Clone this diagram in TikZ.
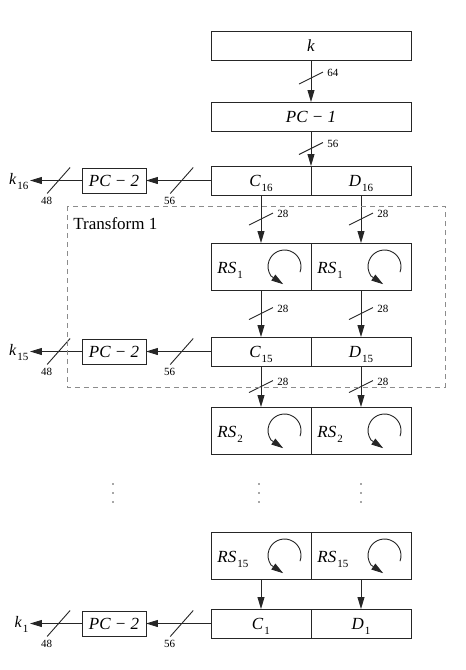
\documentclass[tikz,border=0pt]{standalone}
\usepackage{fontspec}
\setmainfont{Liberation Serif}
\usetikzlibrary{arrows.meta,positioning}
\newcommand{\mainsize}{\fontsize{17}{20}\selectfont}
\newcommand{\subsize}{\fontsize{11}{13}\selectfont}
\newcommand{\idx}[2]{\textit{#1}\kern1pt\raisebox{-5pt}{\subsize #2}}
\tikzset{>={Triangle[length=12pt,width=7pt]},node distance=2cm}
\tikzset{
  blk/.style={draw,minimum width=200pt,minimum height=29pt,inner sep=0pt,outer sep=0pt,
    text height=11pt,text depth=0pt,font=\mainsize},
  half/.style={blk,minimum width=100pt},
  rsbox/.style={half,minimum height=47pt},
  pcbox/.style={blk,minimum width=64pt,minimum height=25pt},
  klabel/.style={inner sep=1.5pt,outer sep=0pt,text height=8pt,text depth=0pt,font=\fontsize{16}{18}\selectfont},
  numlbl/.style={inner sep=0pt,font=\subsize},
  busv/.pic={\draw[-] (-12pt,-6pt) -- (12pt,6pt);
    \node[numlbl,anchor=west] at (16pt,5pt) {#1};},
  bush/.pic={\draw[-] (-11.5pt,-13pt) -- (11.5pt,13pt);
    \node[numlbl] at (-12pt,-20pt) {#1};}
}
\begin{document}
\begin{tikzpicture}[line width=0.9pt,draw=black!85]
  \useasboundingbox (-311pt,45.5pt) rectangle (155pt,-624.5pt);
  \node[blk] (k) {\textit{k}};
  \node[blk] (pc1) [below=42pt of k] {\textit{PC − 1}};
  \node[half] (c16) [below right=35pt and 0pt of pc1.south west] {\idx{C}{16}};
  \node[half] (d16) [right=0pt of c16] {\idx{D}{16}};
  \node[rsbox] (rs1c) [below=48pt of c16] {};
  \node[rsbox] (rs1d) [right=0pt of rs1c] {};
  \node[half] (c15) [below=47pt of rs1c] {\idx{C}{15}};
  \node[half] (d15) [right=0pt of c15] {\idx{D}{15}};
  \node[rsbox] (rs2c) [below=41pt of c15] {};
  \node[rsbox] (rs2d) [right=0pt of rs2c] {};
  \node[rsbox] (rs15c) [below=78pt of rs2c] {};
  \node[rsbox] (rs15d) [right=0pt of rs15c] {};
  \node[half] (c1) [below=30pt of rs15c] {\idx{C}{1}};
  \node[half] (d1) [right=0pt of c1] {\idx{D}{1}};

  % rotating shifts
  \foreach \n/\i in {rs1c/1,rs1d/1,rs2c/2,rs2d/2,rs15c/15,rs15d/15} {
    \node[anchor=base west,inner sep=0pt,font=\mainsize] at ([xshift=6pt,yshift=-6.5pt]\n.west) {\idx{RS}{\i}};
    \draw[->] ([xshift=-26.5pt]\n.east) ++(-20:16.5pt)
      arc[start angle=-20,end angle=215,radius=16.5pt] -- ++(-34:14.8pt);
  }

  % key path
  \draw[->] (k) -- coordinate[pos=.43] (v1) (pc1);
  \pic at (v1) {busv=64};
  \draw[->] (pc1) -- coordinate (v2) (c16.north east);
  \pic at (v2) {busv=56};
  \foreach \a/\b [count=\j] in {c16/rs1c,d16/rs1d,rs1c/c15,rs1d/d15,c15/rs2c,d15/rs2d} {
    \draw[->] (\a) -- coordinate (w\j) (\b);
    \pic at (w\j) {busv=28};
  }
  \draw[->] (rs15c) -- (c1);
  \draw[->] (rs15d) -- (d1);

  % subkeys
  \foreach \r/\i in {c16/16,c15/15,c1/1} {
    \node[pcbox] (pc2\i) [left=65pt of \r] {\textit{PC − 2}};
    \node[klabel,anchor=east] (k\i) [left=52pt of pc2\i] {\idx{k}{\i}};
    \draw[->] (\r) -- coordinate[pos=.45] (h\i) (pc2\i);
    \draw[->] (pc2\i) -- coordinate[pos=.45] (g\i) (k\i);
    \pic at (h\i) {bush=56};
    \pic at (g\i) {bush=48};
  }

  % dots
  \foreach \x in {-198,-52,50}
    \foreach \y in {-438.5,-447.5,-456.5}
      \fill[black!70] (\x pt,\y pt) circle (0.8pt);

  % round 1
  \draw[black!45,dash pattern=on 5pt off 4pt] (-244pt,-160.5pt) rectangle (134pt,-341.5pt);
  \node[anchor=base west,inner sep=0pt,font=\mainsize] (t1) at (-238pt,-183.5pt) {Transform 1};
\end{tikzpicture}
\end{document}
